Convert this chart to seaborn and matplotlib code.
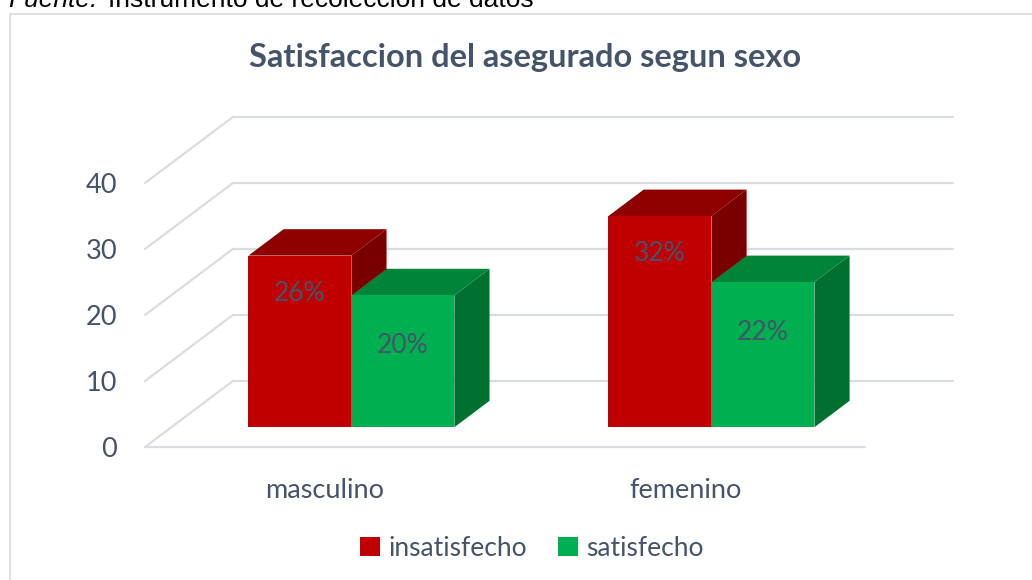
import pandas as pd
import seaborn as sns
import matplotlib.pyplot as plt
from matplotlib.patches import Polygon, Patch, Rectangle

categorias = ["masculino", "femenino"]
series = ["insatisfecho", "satisfecho"]
insatisfecho = [26, 32]
satisfecho = [20, 22]
etiquetas = {"insatisfecho": ["26%", "32%"], "satisfecho": ["20%", "22%"]}
yticks = [0, 10, 20, 30, 40]

colores = {"insatisfecho": ("#C00000", "#8E0000", "#780000"),
           "satisfecho": ("#00B050", "#00843A", "#007030")}
texto = "#44546A"
rejilla = "#D9DDE3"

# oblique "3D" look: full depth offset of the floor, bars sit in the middle
DX, DY = 0.244, 10
FRONT, DEPTH = 0.3, 0.4

df = pd.DataFrame({
    "sexo": categorias * 2,
    "grupo": [series[0]] * 2 + [series[1]] * 2,
    "valor": insatisfecho + satisfecho,
})

sns.set_theme(style="white")
plt.rcParams["font.family"] = ["Lato", "DejaVu Sans"]

fig = plt.figure(figsize=(10.32, 5.8), dpi=100)
ax = fig.add_axes([145 / 1032, 133 / 580, 808 / 1032, 330 / 580])

sns.barplot(data=df, x="sexo", y="valor", hue="grupo", order=categorias,
            hue_order=series, palette=[colores[s][0] for s in series],
            width=0.572, gap=0, saturation=1, legend=False, ax=ax,
            edgecolor="none", linewidth=0)

# grid: floor front edge, left wall diagonals and back wall lines
ax.plot([-0.5, 1.5], [0, 0], color=rejilla, lw=1.6, zorder=1, clip_on=False)
for v in yticks:
    ax.plot([-0.5, -0.5 + DX], [v, v + DY], color=rejilla, lw=1.6, zorder=1, clip_on=False)
    ax.plot([-0.5 + DX, 1.5 + DX], [v + DY, v + DY], color=rejilla, lw=1.6, zorder=1, clip_on=False)

dx, dy = DEPTH * DX, DEPTH * DY
drops = [5.7, 7.6]
for i, (cont, serie) in enumerate(zip(ax.containers, series)):
    frente, arriba, lado = colores[serie]
    for j, p in enumerate(cont.patches):
        x0 = p.get_x() + FRONT * DX
        y0 = FRONT * DY
        w, h = p.get_width(), p.get_height()
        y1 = y0 + h
        p.set_x(x0)
        p.set_y(y0)
        p.set_zorder(4 + 3 * i)
        ax.add_patch(Polygon([(x0 + w, y0), (x0 + w + dx, y0 + dy), (x0 + w + dx, y1 + dy), (x0 + w, y1)],
                             closed=True, fc=lado, ec="none", zorder=2 + 3 * i))
        ax.add_patch(Polygon([(x0, y1), (x0 + w, y1), (x0 + w + dx, y1 + dy), (x0 + dx, y1 + dy)],
                             closed=True, fc=arriba, ec="none", zorder=3 + 3 * i))
        ax.text(x0 + w / 2, y1 - drops[i], etiquetas[serie][j], ha="center", va="center",
                fontsize=19, color=texto, zorder=10)

ax.set_xlim(-0.5, 1.5 + DX)
ax.set_ylim(0, 50)
ax.set_yticks(yticks)
ax.set_yticklabels([str(v) for v in yticks], fontsize=19.5, color=texto)
ax.set_xticks(range(len(categorias)))
ax.set_xticklabels(categorias, fontsize=19.5, color=texto)
ax.tick_params(axis="y", length=0, pad=20)
ax.tick_params(axis="x", length=0, pad=22)
ax.set_xlabel("")
ax.set_ylabel("")
for s in ax.spines.values():
    s.set_visible(False)
ax.patch.set_alpha(0)

fig.text(525 / 1032, 1 - 57 / 580, "Satisfaccion del asegurado segun sexo",
         ha="center", va="center", fontsize=23.5, fontweight="bold", color=texto)

handles = [Patch(fc=colores[s][0], ec="none", label=s) for s in series]
fig.legend(handles=handles, loc="center", bbox_to_anchor=(532 / 1032, 1 - 548 / 580), ncol=2,
           frameon=False, fontsize=19, handlelength=0.75, handleheight=0.75,
           handletextpad=0.3, columnspacing=1.2, labelcolor=texto)

# chart border and source line clipped at the top of the picture
fig.patches.append(Rectangle((10 / 1032, -0.1), 1.1, 1.1 - 14 / 580, transform=fig.transFigure,
                             fill=False, ec="#D9D9D9", lw=1.2, zorder=0))
fig.text(8 / 1032, 1 - 7 / 580, "Fuente:", family="Liberation Sans", style="italic",
         fontsize=19, color="black", va="baseline")
fig.text(108 / 1032, 1 - 7 / 580, "Instrumento de recolección de datos", family="Liberation Sans",
         fontsize=19, color="black", va="baseline")

fig.savefig("out.png", dpi=100)
